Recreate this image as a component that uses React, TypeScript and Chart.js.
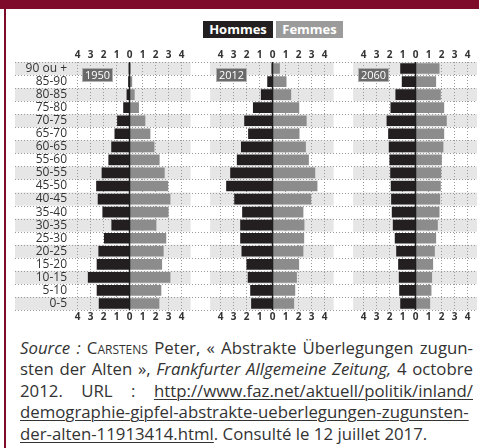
import React, { useEffect, useRef } from 'react';
import { Chart, registerables } from 'chart.js';

Chart.register(...registerables);

const ageGroups = ['90 ou +', '85-90', '80-85', '75-80', '70-75', '65-70', '60-65', '55-60', '50-55', '45-50', '40-45', '35-40', '30-35', '25-30', '20-25', '15-20', '10-15', '5-10', '0-5'];
const years = ['1950', '2012', '2060'];

const men1950 = [0.04, 0.08, 0.2, 0.46, 0.93, 1.13, 1.38, 1.6, 2.12, 2.54, 2.42, 2.06, 1.37, 1.94, 2.37, 2.5, 3.18, 2.5, 2.34];
const women1950 = [0.06, 0.18, 0.37, 0.7, 1.19, 1.58, 1.89, 2.29, 2.68, 2.95, 3.12, 2.98, 2.04, 2.8, 2.6, 2.48, 3.12, 2.42, 2.27];
const men2012 = [0.05, 0.38, 0.87, 1.48, 2.15, 1.85, 2.4, 2.72, 3.23, 3.54, 2.92, 2.31, 2.46, 2.46, 2.36, 1.98, 1.88, 1.69, 1.62];
const women2012 = [0.54, 1.05, 1.41, 2.03, 2.6, 2.05, 2.54, 2.77, 3.26, 3.43, 2.95, 2.35, 2.43, 2.41, 2.35, 2.02, 1.85, 1.72, 1.64];
const men2060 = [1.15, 1.03, 1.52, 1.9, 2.2, 2.08, 2.03, 1.98, 1.92, 1.88, 1.85, 1.8, 1.72, 1.57, 1.46, 1.31, 1.26, 1.23, 1.15];
const women2060 = [1.82, 1.56, 1.92, 2.18, 2.38, 2.18, 2.12, 2.0, 1.95, 1.92, 1.87, 1.82, 1.69, 1.56, 1.46, 1.33, 1.25, 1.2, 1.1];

const tickSteps = [-4, -3, -2, -1, 0, 1, 2, 3, 4];

const PANEL_SPACING = 11;
const X_MIN = -4.54;
const X_MAX = 26.73;
const MEN_COLOR = '#231f20';
const WOMEN_COLOR = '#8c8c8c';
const RED = '#7f0b2b';
const GRID = '#9a9a9a';
const BAND = '#e6e6e6';

const series = [
  [men1950, women1950],
  [men2012, women2012],
  [men2060, women2060],
];
const panelOffsets = years.map((_, k) => k * PANEL_SPACING);
const tickValues = panelOffsets.flatMap((o) => tickSteps.map((t) => o + t));
const panelOf = (v: number) => Math.round(v / PANEL_SPACING);

const datasets: any[] = [];
series.forEach(([m, w], k) => {
  const o = panelOffsets[k];
  datasets.push({
    label: 'Hommes ' + years[k],
    data: m.map((v) => [o - v, o]),
    backgroundColor: MEN_COLOR,
  });
  datasets.push({
    label: 'Femmes ' + years[k],
    data: w.map((v) => [o, o + v]),
    backgroundColor: WOMEN_COLOR,
  });
});

const bandsPlugin = {
  id: 'bands',
  beforeDraw(chart: any) {
    const { ctx, chartArea, scales } = chart;
    const x = scales.x;
    const n = ageGroups.length;
    const h = (chartArea.bottom - chartArea.top) / n;
    ctx.save();
    for (let i = 0; i < n; i += 2) {
      ctx.fillStyle = BAND;
      ctx.fillRect(0, chartArea.top + i * h, chartArea.right, h);
    }
    ctx.fillStyle = '#ffffff';
    for (let k = 0; k < panelOffsets.length - 1; k++) {
      const a = x.getPixelForValue(panelOffsets[k] + 4.7);
      const b = x.getPixelForValue(panelOffsets[k] + 6.2);
      ctx.fillRect(a, chartArea.top, b - a, chartArea.bottom - chartArea.top);
    }
    ctx.strokeStyle = GRID;
    ctx.lineWidth = 1;
    ctx.setLineDash([1, 2]);
    for (let i = 0; i <= n; i++) {
      const yy = Math.round(chartArea.top + i * h) + 0.5;
      ctx.beginPath();
      ctx.moveTo(0, yy);
      ctx.lineTo(chartArea.right, yy);
      ctx.stroke();
    }
    ctx.restore();
  },
  afterDatasetsDraw(chart: any) {
    const { ctx, chartArea, scales } = chart;
    ctx.save();
    ctx.strokeStyle = '#1e1e1e';
    ctx.lineWidth = 1.5;
    panelOffsets.forEach((o) => {
      const px = scales.x.getPixelForValue(o);
      ctx.beginPath();
      ctx.moveTo(px, chartArea.top);
      ctx.lineTo(px, chartArea.bottom);
      ctx.stroke();
    });
    ctx.restore();
  },
};

const tickFont = { family: '"Open Sans", sans-serif', size: 10, weight: 'bold' as const };
const tickLabel = (value: any) => String(Math.abs(Math.round(Number(value) - panelOf(Number(value)) * PANEL_SPACING)));
const setTicks = (scale: any) => {
  scale.ticks = tickValues.map((value) => ({ value }));
};

export default function App() {
  const ref = useRef<HTMLCanvasElement>(null);
  useEffect(() => {
    const chart = new Chart(ref.current as HTMLCanvasElement, {
      type: 'bar',
      data: { labels: ageGroups, datasets },
      plugins: [bandsPlugin],
      options: {
        indexAxis: 'y',
        responsive: false,
        animation: false,
        layout: { padding: 0 },
        datasets: { bar: { grouped: false, barThickness: 10, borderWidth: 0 } } as any,
        plugins: { legend: { display: false }, tooltip: { enabled: false } },
        scales: {
          x: {
            type: 'linear',
            position: 'bottom',
            min: X_MIN,
            max: X_MAX,
            afterBuildTicks: setTicks,
            afterFit: (s: any) => { s.height = 14; },
            grid: {
              drawTicks: false,
              color: (ctx: any) => {
                const v = ctx.tick ? ctx.tick.value : 1;
                return Math.abs(v - panelOf(v) * PANEL_SPACING) < 0.01 ? 'rgba(0,0,0,0)' : GRID;
              },
            },
            border: { display: false, dash: [1, 2] },
            ticks: { callback: tickLabel, padding: 1, color: '#333', font: tickFont, autoSkip: false, maxRotation: 0 },
          },
          xTop: {
            type: 'linear',
            position: 'top',
            min: X_MIN,
            max: X_MAX,
            afterBuildTicks: setTicks,
            afterFit: (s: any) => { s.height = 14; },
            grid: { display: false, drawTicks: false },
            border: { display: false },
            ticks: { callback: tickLabel, padding: 1, color: '#333', font: tickFont, autoSkip: false, maxRotation: 0 },
          },
          y: {
            type: 'category',
            afterFit: (s: any) => { s.width = 55.5; },
            grid: { display: false, drawTicks: false },
            border: { display: false },
            ticks: { padding: 3.5, color: '#333', autoSkip: false, font: { family: '"Open Sans", sans-serif', size: 12 } },
          },
        } as any,
      },
    } as any);
    return () => chart.destroy();
  }, []);

  const yearBox = (left: number, text: string) => (
    <div
      key={text}
      style={{
        position: 'absolute', left, top: 68, width: 31, height: 14, boxSizing: 'border-box',
        background: '#6a6a6a', border: '1px solid #b0b0b0', color: '#fff', fontSize: 11,
        lineHeight: '12px', textAlign: 'center',
      }}
    >{text}</div>
  );

  const u = { textDecoration: 'underline', textUnderlineOffset: '2px', textDecorationThickness: '1px' } as const;
  const line = { textAlign: 'justify', textAlignLast: 'justify', whiteSpace: 'nowrap' } as any;
  const legendBox = { position: 'absolute', top: 21, height: 17, color: '#fff', fontWeight: 'bold', fontSize: 13, lineHeight: '17px', textAlign: 'center' } as const;

  return (
    <div style={{ position: 'absolute', left: 0, top: 0, width: 479, height: 448, background: '#fff', overflow: 'hidden', fontFamily: '"Open Sans", sans-serif' }}>
      <div style={{ position: 'absolute', left: 0, top: 0, width: 479, height: 9, background: RED }} />
      <div style={{ position: 'absolute', left: 4, top: 0, width: 2, height: 448, background: RED }} />
      <div style={{ ...legendBox, left: 203, width: 70, background: '#231f20' }}>Hommes</div>
      <div style={{ ...legendBox, left: 276, width: 67, background: '#9b9b9b' }}>Femmes</div>
      <canvas ref={ref} width={462} height={276} style={{ position: 'absolute', left: 15, top: 48, width: 462, height: 276 }} />
      {yearBox(82, years[0])}
      {yearBox(216, years[1])}
      {yearBox(358, years[2])}
      <div style={{ position: 'absolute', left: 20, top: 336.5, width: 453, color: '#333', fontSize: 16.8, lineHeight: '21.5px' }}>
        <div style={line}><i>Source :</i> C<span style={{ fontVariant: 'small-caps' }}>arstens</span> Peter, « Abstrakte Überlegungen zugun-</div>
        <div style={line}>sten der Alten », <i>Frankfurter Allgemeine Zeitung,</i> 4 octobre</div>
        <div style={line}>2012. URL : <span style={u}>http://www.faz.net/aktuell/politik/inland/</span></div>
        <div style={line}><span style={u}>demographie-gipfel-abstrakte-ueberlegungen-zugunsten-</span></div>
        <div style={{ whiteSpace: 'nowrap' }}><span style={u}>der-alten-11913414.html</span>. Consulté le 12 juillet 2017.</div>
      </div>
    </div>
  );
}
